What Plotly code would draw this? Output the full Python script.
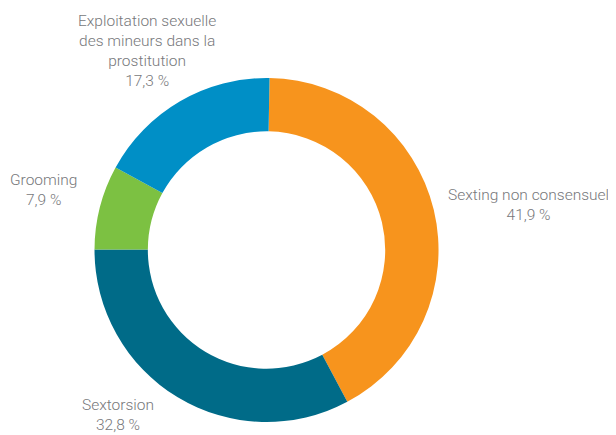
import plotly.graph_objects as go

# Data
categories = ["Sexting non consensuel", "Sextorsion", "Grooming",
              "Exploitation sexuelle<br>des mineurs dans la<br>prostitution"]
values = [41.9, 32.8, 7.9, 17.3]
colors = ["#F7941D", "#006B88", "#7CC142", "#008FC6"]

# label positions (paper coords), one per category
label_x = [0.856, 0.181, 0.058, 0.229]
label_y = [0.539, 0.048, 0.574, 0.899]

fig = go.Figure(go.Pie(
    labels=categories,
    values=values,
    hole=0.69,
    sort=False,
    direction="clockwise",
    rotation=1,
    marker=dict(colors=colors, line=dict(width=0)),
    textinfo="none",
    hoverinfo="label+percent",
    showlegend=False,
    domain=dict(x=[0.1423, 0.7081], y=[0.0304, 0.8361]),
))

for cat, val, lx, ly in zip(categories, values, label_x, label_y):
    pct = f"{val:.1f}".replace(".", ",") + " %"
    fig.add_annotation(
        x=lx, y=ly, xref="paper", yref="paper",
        text=f"{cat}<br>{pct}",
        showarrow=False, align="center",
        xanchor="center", yanchor="middle",
        font=dict(family="Roboto, sans-serif", weight=300,
                  size=15.5, color="#77787B"),
    )

# page has an 8px body margin, so the figure is drawn 8px smaller
fig.update_layout(
    width=608, height=427,
    margin=dict(l=0, r=0, t=0, b=0),
    paper_bgcolor="white",
    plot_bgcolor="white",
)

fig.write_html("out.html")
